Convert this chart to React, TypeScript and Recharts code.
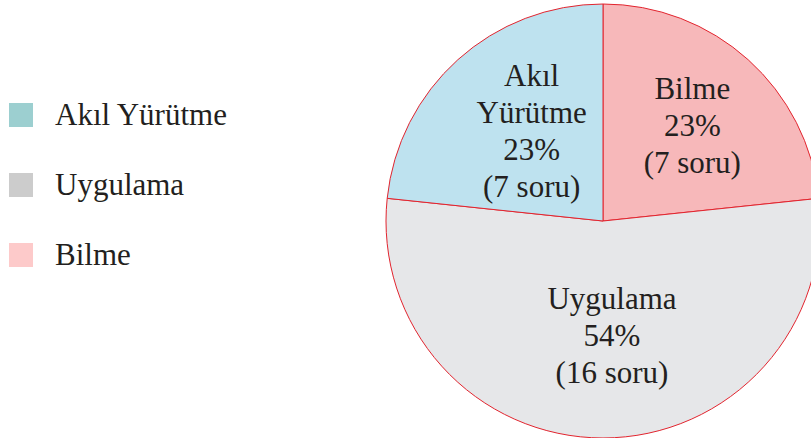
import { PieChart, Pie, Cell, Legend } from "recharts"

const names = ["Bilme", "Uygulama", "Akıl Yürütme"]
const soru = [7, 16, 7]
const percents = ["23%", "54%", "23%"]
const labelLines = [["Bilme"], ["Uygulama"], ["Akıl", "Yürütme"]]

const legendNames = ["Akıl Yürütme", "Uygulama", "Bilme"]
const legendColors = ["#9ccfd0", "#cccccc", "#fdcaca"]

const sliceColors = ["#f7b8ba", "#e6e7e9", "#bee2ef"]

// hand placement nudges for the slice labels
const labelNudge = [
  [8, -6],
  [9, -8],
  [10, 0],
]

const data = names.map((name, i) => ({
  name,
  value: soru[i],
  pct: percents[i],
  lines: labelLines[i],
}))

const FONT = "Liberation Serif"
const RAD = Math.PI / 180

function renderLabel(props: any) {
  const { cx, cy, midAngle, outerRadius, index } = props
  const d = data[index]
  const r = outerRadius * 0.56
  const x = cx + r * Math.cos(-midAngle * RAD) + labelNudge[index][0]
  const y = cy + r * Math.sin(-midAngle * RAD) + labelNudge[index][1]
  const lines = [...d.lines, d.pct, `(${d.value} soru)`]
  const lh = 37
  const top = y - ((lines.length - 1) * lh) / 2
  return (
    <text
      x={x}
      y={top}
      textAnchor="middle"
      dominantBaseline="central"
      fill="#231f20"
      fontFamily={FONT}
      fontSize={31}
    >
      {lines.map((l, i) => (
        <tspan key={i} x={x} y={top + i * lh}>
          {l}
        </tspan>
      ))}
    </text>
  )
}

function renderLegend() {
  return (
    <div style={{ fontFamily: FONT, fontSize: 31, color: "#231f20" }}>
      {legendNames.map((n, i) => (
        <div
          key={n}
          style={{ display: "flex", alignItems: "center", height: 70 }}
        >
          <span
            style={{
              width: 24,
              height: 24,
              background: legendColors[i],
              marginRight: 22,
              display: "inline-block",
            }}
          />
          {n}
        </div>
      ))}
    </div>
  )
}

export default function App() {
  return (
    <div style={{ position: "absolute", left: 0, top: 0, width: 811, height: 438, background: "#fff" }}>
      <PieChart width={811} height={438} margin={{ top: 0, right: 0, bottom: 0, left: 0 }}>
        <Pie
          data={data}
          dataKey="value"
          cx={603}
          cy={221}
          outerRadius={217}
          startAngle={90}
          endAngle={-270}
          stroke="#e2242e"
          strokeWidth={1}
          label={renderLabel}
          labelLine={false}
          isAnimationActive={false}
        >
          {data.map((d, i) => (
            <Cell key={d.name} fill={sliceColors[i]} />
          ))}
        </Pie>
        <Legend
          content={renderLegend}
          layout="vertical"
          wrapperStyle={{ position: "absolute", left: 9, top: 80, width: 300 }}
        />
      </PieChart>
    </div>
  )
}
